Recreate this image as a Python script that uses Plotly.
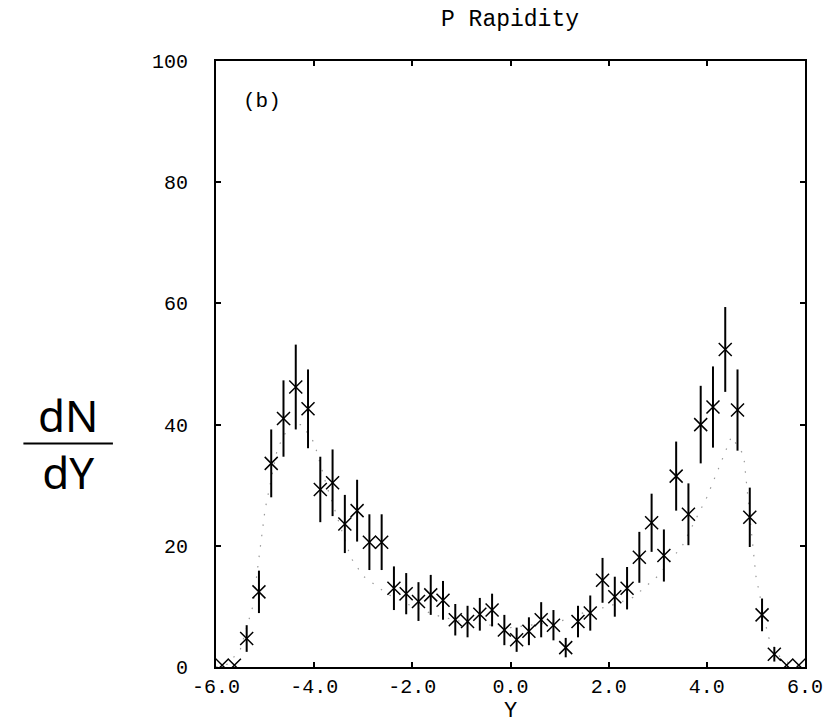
import plotly.graph_objects as go

# bin centres (rapidity Y) and measured dN/dY with statistical errors
y_bins = [-5.875, -5.625, -5.375, -5.125, -4.875, -4.625, -4.375, -4.125,
          -3.875, -3.625, -3.375, -3.125, -2.875, -2.625, -2.375, -2.125,
          -1.875, -1.625, -1.375, -1.125, -0.875, -0.625, -0.375, -0.125,
          0.125, 0.375, 0.625, 0.875, 1.125, 1.375, 1.625, 1.875,
          2.125, 2.375, 2.625, 2.875, 3.125, 3.375, 3.625, 3.875,
          4.125, 4.375, 4.625, 4.875, 5.125, 5.375, 5.625, 5.875]
dndy = [0.3, 0.3, 4.7, 12.4, 33.6, 41.0, 46.2, 42.6,
        29.3, 30.4, 23.6, 25.8, 20.6, 20.6, 13.0, 12.1,
        10.8, 11.9, 11.0, 7.8, 7.5, 8.7, 9.4, 6.1,
        4.5, 5.9, 7.8, 6.9, 3.2, 7.5, 8.9, 14.3,
        11.6, 13.0, 18.1, 23.8, 18.4, 31.5, 25.2, 40.0,
        42.9, 52.4, 42.4, 24.7, 8.6, 2.1, 0.3, 0.3]
dndy_err = [0.0, 0.0, 2.2, 3.5, 5.6, 6.3, 7.0, 6.5,
            5.4, 5.5, 4.8, 5.1, 4.6, 4.6, 3.6, 3.4,
            3.2, 3.3, 3.2, 2.6, 2.6, 2.7, 2.7, 2.5,
            2.0, 2.3, 2.9, 2.5, 1.6, 2.6, 2.9, 3.7,
            3.3, 3.5, 4.2, 4.8, 4.3, 5.7, 5.1, 6.4,
            6.7, 7.0, 6.7, 4.9, 2.7, 1.2, 0.0, 0.0]

# faint dotted model curve (estimated from the visible dots)
model_x = [-6.0, -5.75, -5.5, -5.25, -5.0, -4.75, -4.5, -4.25, -4.0, -3.75,
           -3.5, -3.25, -3.0, -2.5, -2.0, -1.5, -1.0, -0.5, 0.0, 0.5,
           1.0, 1.5, 2.0, 2.5, 3.0, 3.5, 4.0, 4.5, 4.75, 5.0,
           5.25, 5.5, 5.75, 6.0]
model_y = [0.0, 0.5, 3.0, 10.0, 26.0, 36.0, 40.0, 40.0, 37.0, 30.0,
           24.0, 18.0, 15.0, 12.0, 10.0, 8.5, 7.5, 7.0, 6.5, 7.0,
           7.5, 9.0, 10.0, 11.5, 15.0, 20.0, 28.0, 38.0, 35.0, 15.0,
           5.0, 1.5, 0.3, 0.0]

x_ticks = [-6, -4, -2, 0, 2, 4, 6]
x_tick_labels = ["-6.0", "-4.0", "-2.0", "0.0", "2.0", "4.0", "6.0"]
y_ticks = [0, 20, 40, 60, 80, 100]
y_tick_labels = ["0", "20", "40", "60", "80", "100"]

mono = "Liberation Mono"
hand = "Noto Sans"

fig = go.Figure()
fig.add_trace(go.Scatter(
    x=model_x, y=model_y, mode="lines",
    line=dict(color="#999999", width=1.2, dash="1.5px,9px"),
    hoverinfo="skip", showlegend=False))
fig.add_trace(go.Scatter(
    x=y_bins, y=dndy, mode="markers",
    marker=dict(symbol="x-thin-open", size=13, color="black",
                line=dict(color="black", width=1.5)),
    error_y=dict(type="data", array=dndy_err, visible=True,
                 color="black", thickness=2, width=0),
    showlegend=False))

axis_common = dict(
    showgrid=False, zeroline=False, showline=True, linecolor="black",
    linewidth=2, mirror="ticks", ticks="inside", ticklen=5,
    tickwidth=1.5, tickcolor="black",
    tickfont=dict(family=mono, size=20, color="black"))

fig.update_layout(
    width=827, height=720,
    margin=dict(l=208, r=26, t=53, b=55),
    paper_bgcolor="white", plot_bgcolor="white",
    title=dict(text="P Rapidity", x=0.607, xanchor="center",
               yref="container", y=0.997, yanchor="top",
               font=dict(family=mono, size=23, color="black")),
    xaxis=dict(range=[-6, 6], tickvals=x_ticks, ticktext=x_tick_labels,
               title=dict(text="Y", font=dict(family=mono, size=22, color="black"),
                          standoff=2),
               **axis_common),
    yaxis=dict(range=[0, 100], tickvals=y_ticks, ticktext=y_tick_labels,
               ticklabelstandoff=22, **axis_common),
    annotations=[
        dict(text="(b)", x=-5.07, y=93.4, xref="x", yref="y", showarrow=False,
             font=dict(family=mono, size=21, color="black")),
        dict(text="dN<br>dY", x=-0.251, y=0.369, xref="paper", yref="paper",
             xanchor="center", yanchor="middle", align="center",
             showarrow=False,
             font=dict(family=hand, size=44, color="black")),
    ],
)
fig.add_shape(type="line", xref="paper", yref="paper",
              x0=-0.327, x1=-0.175, y0=0.369, y1=0.369,
              line=dict(color="black", width=2))
fig.write_html("out.html")
